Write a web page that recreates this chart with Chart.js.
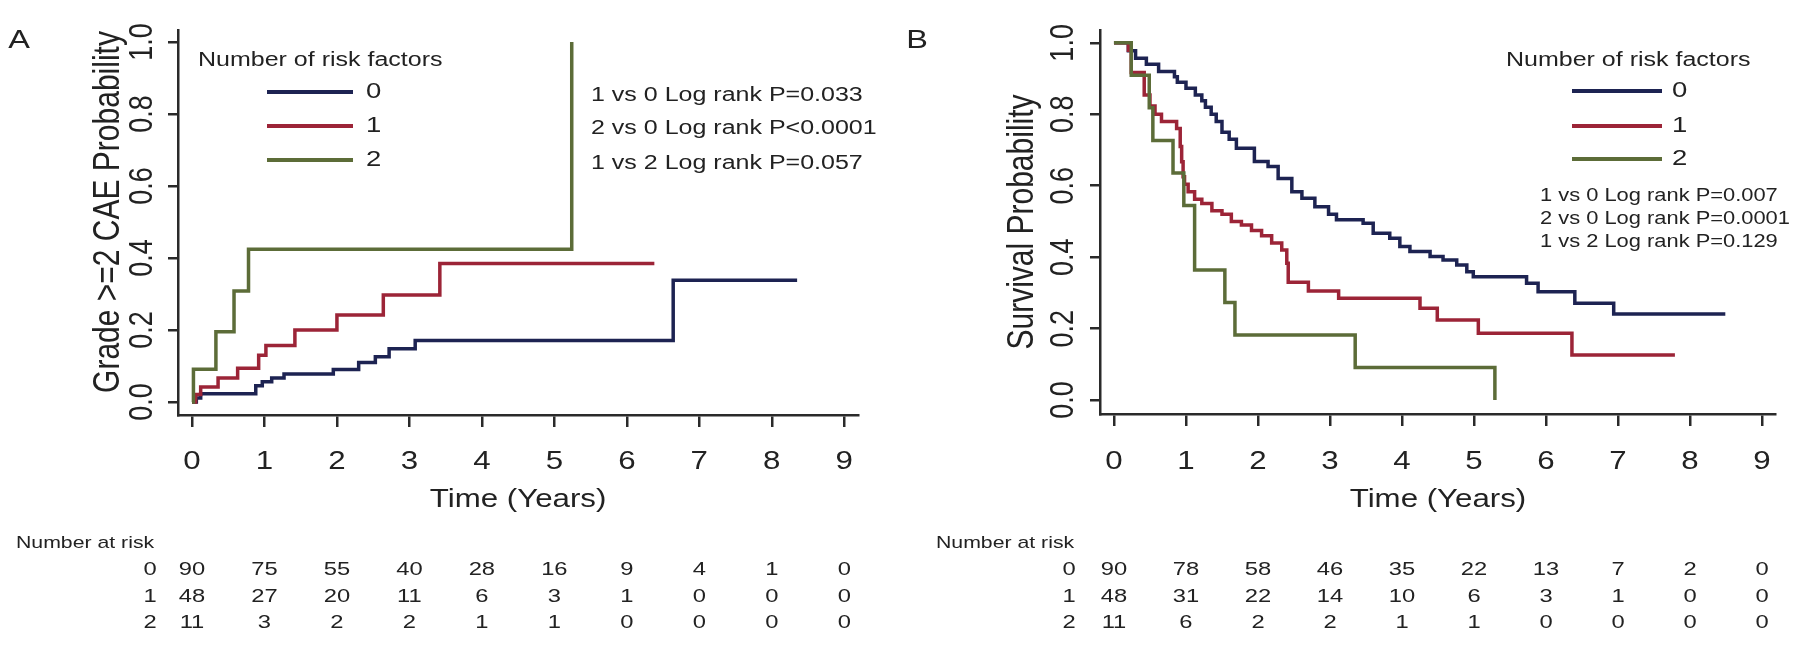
<!DOCTYPE html>
<html>
<head>
<meta charset="utf-8">
<script src="https://cdn.jsdelivr.net/npm/chart.js@4"></script>
<style>
  html, body { margin: 0; padding: 0; background: #fff; }
  #wrap { position: relative; width: 1800px; height: 662px; }
  canvas { position: absolute; top: 0; }
</style>
</head>
<body>
<div id="wrap">
  <canvas id="chartA" width="900" height="662" style="left:0"></canvas>
  <canvas id="chartB" width="900" height="662" style="left:900px"></canvas>
</div>
<script>
// tick labels
const years = [0, 1, 2, 3, 4, 5, 6, 7, 8, 9];
const probTicks = [0, 0.2, 0.4, 0.6, 0.8, 1.0];
const groupLabels = ['0', '1', '2'];

// Panel A: cumulative probability of grade >=2 CAE
const caeTime0 = [0, 0.06, 0.12, 0.88, 0.97, 1.1, 1.27, 1.95, 2.3, 2.53, 2.72, 3.08, 6.64, 8.35];
const caeProb0 = [0, 0.011, 0.023, 0.045, 0.056, 0.067, 0.078, 0.09, 0.11, 0.126, 0.148, 0.171, 0.338, 0.338];
const caeTime1 = [0, 0.05, 0.12, 0.36, 0.63, 0.92, 1.02, 1.42, 2.0, 2.64, 3.42, 6.38];
const caeProb1 = [0, 0.021, 0.042, 0.067, 0.094, 0.13, 0.157, 0.2, 0.242, 0.297, 0.385, 0.385];
const caeTime2 = [0, 0.02, 0.33, 0.58, 0.78, 5.24];
const caeProb2 = [0, 0.091, 0.195, 0.308, 0.424, 1.0];

// Panel B: survival probability
const survTime0 = [0, 0.2, 0.3, 0.45, 0.62, 0.84, 0.88, 1.0, 1.13, 1.22, 1.27, 1.35, 1.42, 1.5, 1.6, 1.7, 1.95, 2.14, 2.28, 2.47, 2.61, 2.79, 2.98, 3.09, 3.46, 3.6, 3.83, 3.97, 4.11, 4.39, 4.57, 4.76, 4.9, 4.99, 5.73, 5.89, 6.4, 6.94, 8.49];
const survProb0 = [1, 0.978, 0.957, 0.94, 0.92, 0.905, 0.89, 0.873, 0.854, 0.838, 0.82, 0.8, 0.78, 0.75, 0.73, 0.705, 0.668, 0.654, 0.62, 0.583, 0.565, 0.541, 0.52, 0.505, 0.495, 0.467, 0.453, 0.43, 0.416, 0.402, 0.392, 0.378, 0.359, 0.345, 0.327, 0.303, 0.271, 0.241, 0.241];
const survTime1 = [0, 0.2, 0.24, 0.42, 0.5, 0.57, 0.66, 0.87, 0.92, 0.94, 0.96, 0.98, 1.03, 1.12, 1.22, 1.36, 1.5, 1.63, 1.77, 1.91, 2.05, 2.19, 2.33, 2.4, 2.42, 2.7, 3.12, 4.25, 4.49, 5.06, 6.36, 7.79];
const survProb1 = [1, 0.979, 0.917, 0.854, 0.823, 0.8, 0.78, 0.76, 0.71, 0.667, 0.625, 0.604, 0.583, 0.562, 0.55, 0.53, 0.52, 0.5, 0.49, 0.475, 0.46, 0.44, 0.42, 0.383, 0.33, 0.305, 0.285, 0.257, 0.224, 0.187, 0.126, 0.126];
const survTime2 = [0, 0.24, 0.49, 0.54, 0.82, 0.97, 1.12, 1.54, 1.68, 3.35, 5.29];
const survProb2 = [1, 0.909, 0.818, 0.727, 0.636, 0.545, 0.364, 0.273, 0.182, 0.091, 0];

// number at risk
const riskA0 = [90, 75, 55, 40, 28, 16, 9, 4, 1, 0];
const riskA1 = [48, 27, 20, 11, 6, 3, 1, 0, 0, 0];
const riskA2 = [11, 3, 2, 2, 1, 1, 0, 0, 0, 0];
const riskB0 = [90, 78, 58, 46, 35, 22, 13, 7, 2, 0];
const riskB1 = [48, 31, 22, 14, 10, 6, 3, 1, 0, 0];
const riskB2 = [11, 6, 2, 2, 1, 1, 0, 0, 0, 0];

const pvalsA = ['1 vs 0 Log rank P=0.033', '2 vs 0 Log rank P<0.0001', '1 vs 2 Log rank P=0.057'];
const pvalsB = ['1 vs 0 Log rank P=0.007', '2 vs 0 Log rank P=0.0001', '1 vs 2 Log rank P=0.129'];

const colors = ['#1d2352', '#9c2437', '#5c6c38'];
const axisColor = '#2a2a2a';
const textColor = '#222';
const SX = 1.25; // the source figure is stretched horizontally

function txt(ctx, s, x, y, size, align, rot) {
    ctx.save();
    ctx.translate(x, y);
    ctx.scale(SX, 1);
    if (rot) ctx.rotate(rot);
    ctx.font = size + 'px "Liberation Sans", Arial, sans-serif';
    ctx.fillStyle = textColor;
    ctx.textAlign = align || 'left';
    ctx.textBaseline = 'middle';
    ctx.fillText(s, 0, 0);
    ctx.restore();
}

function textPlugin(cfg) {
    return {
        id: 'panelText',
        afterDraw(chart) {
            const ctx = chart.ctx;
            const xs = chart.scales.x;
            const ys = chart.scales.y;

            txt(ctx, cfg.letter, cfg.letterX, 41, 26, 'center');

            // axis labels
            years.forEach(v => txt(ctx, String(v), xs.getPixelForValue(v), 462, 25, 'center'));
            probTicks.forEach(v => txt(ctx, v.toFixed(1), cfg.yTickX, ys.getPixelForValue(v), 27, 'center', -Math.PI / 2));
            txt(ctx, 'Time (Years)', xs.getPixelForValue(4.5), 500, 25, 'center');
            txt(ctx, cfg.yTitle, cfg.yTitleX, cfg.yTitleY, 30, 'center', -Math.PI / 2);

            // legend
            txt(ctx, 'Number of risk factors', cfg.legX, 60, 20, 'left');
            cfg.legRows.forEach((y, i) => {
                ctx.save();
                ctx.strokeStyle = colors[i];
                ctx.lineWidth = 4;
                ctx.beginPath();
                ctx.moveTo(cfg.legLine[0], y);
                ctx.lineTo(cfg.legLine[1], y);
                ctx.stroke();
                ctx.restore();
                txt(ctx, groupLabels[i], cfg.legLabelX, y, 22, 'left');
            });

            // log rank results
            cfg.pvals.forEach((s, i) => txt(ctx, s, cfg.pX, cfg.pRows[i], cfg.pSize, 'left'));

            // number at risk table
            txt(ctx, 'Number at risk', cfg.riskX, 543, 17, 'left');
            const rowsY = [570, 597, 623];
            cfg.risk.forEach((row, i) => {
                txt(ctx, groupLabels[i], cfg.groupX, rowsY[i], 19, 'center');
                row.forEach((n, k) => txt(ctx, String(n), xs.getPixelForValue(years[k]), rowsY[i], 19, 'center'));
            });
        }
    };
}

function series(t, p) {
    return t.map((x, k) => ({ x: x, y: p[k] }));
}

function makeChart(id, cfg) {
    return new Chart(document.getElementById(id), {
        type: 'line',
        data: {
            datasets: cfg.series.map((s, i) => ({
                label: groupLabels[i],
                data: s,
                borderColor: colors[i],
                borderWidth: 3.5,
                stepped: true,
                pointRadius: 0,
                fill: false,
                order: 2 - i,
            }))
        },
        options: {
            responsive: false,
            animation: false,
            layout: { padding: { top: cfg.top, right: 900 - cfg.right, left: 0, bottom: 0 } },
            plugins: { legend: { display: false }, tooltip: { enabled: false } },
            scales: {
                x: {
                    type: 'linear',
                    min: cfg.xMin,
                    max: cfg.xMax,
                    afterBuildTicks: s => { s.ticks = years.map(v => ({ value: v })); },
                    ticks: { display: false },
                    grid: { drawOnChartArea: false, tickLength: 12, color: axisColor, lineWidth: 2.5 },
                    border: { color: axisColor, width: 2.5 },
                    afterFit: s => { s.height = 662 - cfg.bottom; }
                },
                y: {
                    type: 'linear',
                    min: cfg.yMin,
                    max: cfg.yMax,
                    afterBuildTicks: s => { s.ticks = probTicks.map(v => ({ value: v })); },
                    ticks: { display: false },
                    grid: { drawOnChartArea: false, tickLength: 10, color: axisColor, lineWidth: 2.5 },
                    border: { color: axisColor, width: 2.5 },
                    afterFit: s => { s.width = cfg.left; }
                }
            }
        },
        plugins: [textPlugin(cfg)]
    });
}

document.addEventListener('DOMContentLoaded', () => {
    makeChart('chartA', {
        left: 178, right: 858, top: 30, bottom: 415,
        xMin: -0.193, xMax: 9.19, yMin: -0.036, yMax: 1.033,
        series: [series(caeTime0, caeProb0), series(caeTime1, caeProb1), series(caeTime2, caeProb2)],
        letter: 'A', letterX: 19,
        yTitle: 'Grade >=2 CAE Probability', yTitleX: 109, yTitleY: 212, yTickX: 143,
        legX: 198, legLine: [267, 353], legLabelX: 366, legRows: [92, 126, 160],
        pvals: pvalsA, pX: 591, pRows: [95, 128, 163], pSize: 20,
        risk: [riskA0, riskA1, riskA2], riskX: 16, groupX: 150
    });

    makeChart('chartB', {
        left: 200, right: 875, top: 30, bottom: 414,
        xMin: -0.194, xMax: 9.18, yMin: -0.039, yMax: 1.036,
        series: [series(survTime0, survProb0), series(survTime1, survProb1), series(survTime2, survProb2)],
        letter: 'B', letterX: 17,
        yTitle: 'Survival Probability', yTitleX: 123, yTitleY: 222, yTickX: 164,
        legX: 606, legLine: [672, 762], legLabelX: 772, legRows: [91, 126, 159],
        pvals: pvalsB, pX: 640, pRows: [196, 219, 242], pSize: 17.5,
        risk: [riskB0, riskB1, riskB2], riskX: 36, groupX: 169
    });
});
</script>
</body>
</html>
